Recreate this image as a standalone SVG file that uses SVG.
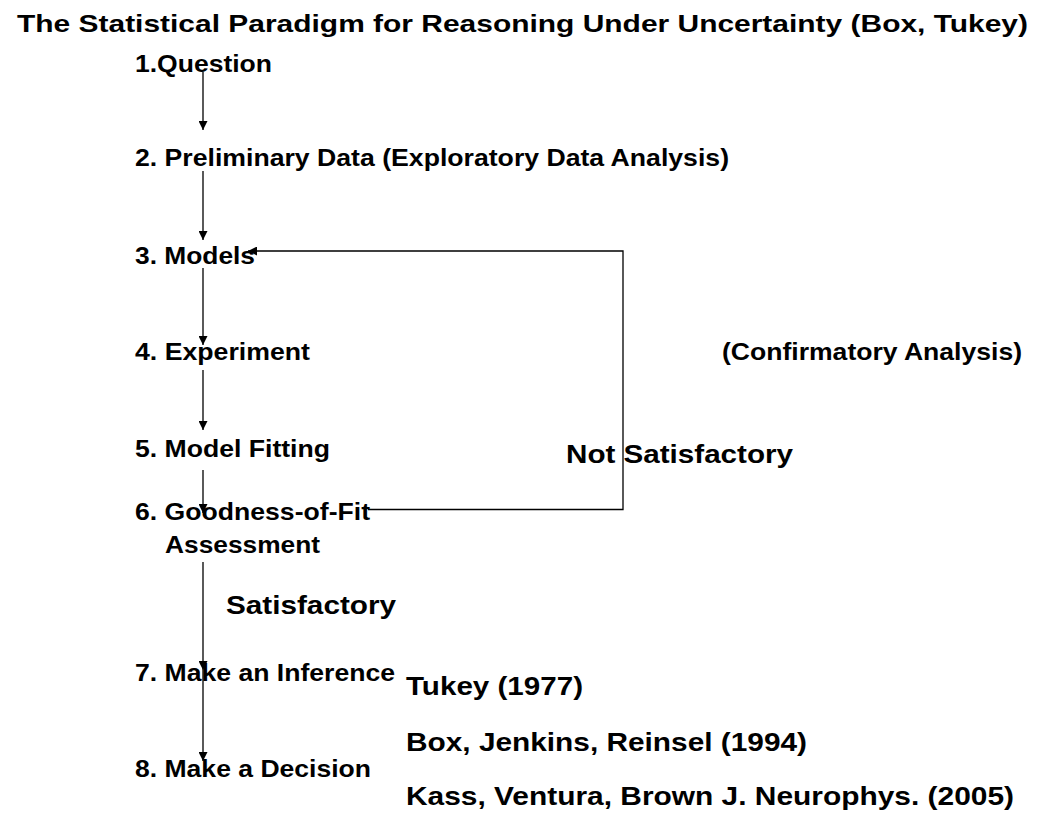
<svg xmlns="http://www.w3.org/2000/svg" width="1045" height="827" viewBox="0 0 1045 827">
<style>
text{font-family:"Liberation Sans",Arial,sans-serif;font-weight:bold;fill:#000}
.t{font-size:24px}
.i{font-size:24px}
.b{font-size:26.5px}
.r{font-size:25.6px}
.c{stroke:#000;stroke-width:1.3;fill:none}
</style>
<defs>
<marker id="ah" viewBox="0 0 10 10" refX="10" refY="5" markerWidth="10" markerHeight="9" orient="auto" markerUnits="userSpaceOnUse"><path d="M0,0 L10,5 L0,10 z" fill="#000"/></marker>
</defs>
<rect width="1045" height="827" fill="#fff"/>
<g id="title"><text class="t" x="17" y="32" textLength="1011" lengthAdjust="spacingAndGlyphs">The Statistical Paradigm for Reasoning Under Uncertainty (Box, Tukey)</text></g>
<g id="connectors">
<line class="c" x1="203" y1="72" x2="203" y2="130" marker-end="url(#ah)"/>
<line class="c" x1="203" y1="171" x2="203" y2="240" marker-end="url(#ah)"/>
<line class="c" x1="203" y1="268" x2="203" y2="345" marker-end="url(#ah)"/>
<line class="c" x1="203" y1="370" x2="203" y2="430" marker-end="url(#ah)"/>
<line class="c" x1="203" y1="470" x2="203" y2="513" marker-end="url(#ah)"/>
<line class="c" x1="203" y1="562" x2="203" y2="670" marker-end="url(#ah)"/>
<line class="c" x1="203" y1="670" x2="203" y2="761" marker-end="url(#ah)"/>
<polyline class="c" points="368,509.5 623,509.5 623,251 248,251" marker-end="url(#ah)"/>
</g>
<g id="n1"><text class="i" x="135" y="72" textLength="137" lengthAdjust="spacingAndGlyphs">1.Question</text></g>
<g id="n2"><text class="i" x="135" y="166" textLength="594" lengthAdjust="spacingAndGlyphs">2. Preliminary Data (Exploratory Data Analysis)</text></g>
<g id="n3"><text class="i" x="135" y="264" textLength="120" lengthAdjust="spacingAndGlyphs">3. Models</text></g>
<g id="n4"><text class="i" x="135" y="360" textLength="175" lengthAdjust="spacingAndGlyphs">4. Experiment</text></g>
<g id="n5"><text class="i" x="135" y="457" textLength="195" lengthAdjust="spacingAndGlyphs">5. Model Fitting</text></g>
<g id="n6"><text class="i" x="135" y="520" textLength="235" lengthAdjust="spacingAndGlyphs">6. Goodness-of-Fit</text><text class="i" x="165" y="553" textLength="155" lengthAdjust="spacingAndGlyphs">Assessment</text></g>
<g id="n7"><text class="i" x="135" y="681" textLength="260" lengthAdjust="spacingAndGlyphs">7. Make an Inference</text></g>
<g id="n8"><text class="i" x="135" y="777" textLength="236" lengthAdjust="spacingAndGlyphs">8. Make a Decision</text></g>
<g id="labels">
<text class="i" x="722" y="360" textLength="300" lengthAdjust="spacingAndGlyphs">(Confirmatory Analysis)</text>
<text class="b" x="566" y="463" textLength="227" lengthAdjust="spacingAndGlyphs">Not Satisfactory</text>
<text class="b" x="226" y="614" textLength="170" lengthAdjust="spacingAndGlyphs">Satisfactory</text>
</g>
<g id="refs">
<text class="r" x="406" y="695" textLength="177" lengthAdjust="spacingAndGlyphs">Tukey (1977)</text>
<text class="r" x="406" y="751" textLength="401" lengthAdjust="spacingAndGlyphs">Box, Jenkins, Reinsel (1994)</text>
<text class="r" x="406" y="805" textLength="608" lengthAdjust="spacingAndGlyphs">Kass, Ventura, Brown J. Neurophys. (2005)</text>
</g>
</svg>
